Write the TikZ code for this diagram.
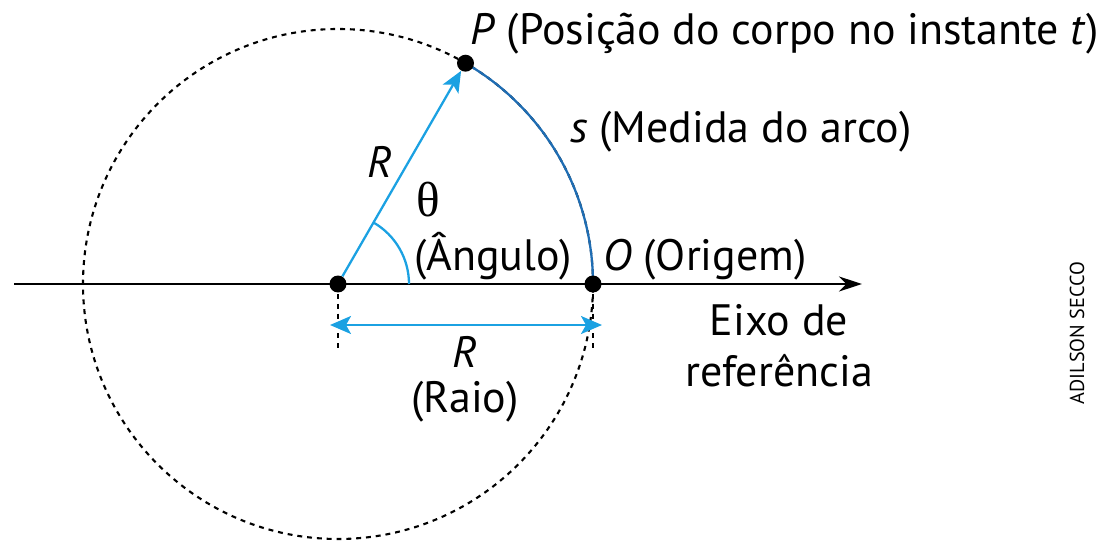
\documentclass[tikz,border=0pt]{standalone}
\usepackage{fontspec}
\setmainfont{PT Sans}
\newfontfamily\thetafont{Liberation Serif}
\usetikzlibrary{arrows.meta}
\definecolor{radblue}{HTML}{1BA1E2}
\definecolor{arcblue}{HTML}{1F6DB3}
\tikzset{
  axisarrow/.style={-{Stealth[length=4.6mm, width=3mm]}, line width=1.3pt, black},
  radarrow/.style={-{Stealth[length=4.2mm, width=3.6mm, inset=1mm]}, line width=1.3pt, radblue},
  dblarrow/.style={{Stealth[length=4.2mm, width=3.6mm, inset=1mm]}-{Stealth[length=4.2mm, width=3.6mm, inset=1mm]}, line width=1.3pt, radblue},
  arcline/.style={line width=1.3pt, arcblue},
  angline/.style={line width=1.3pt, radblue},
  dotline/.style={line width=1.2pt, dash pattern=on 2.8pt off 2.8pt},
  ptdot/.style={circle, fill=black, inner sep=0pt, minimum size=3.4mm},
  lbl/.style={font=\fontsize{25}{29}\selectfont, inner sep=0pt}
}
\begin{document}
\begin{tikzpicture}[x=0.02cm, y=0.02cm]
  \useasboundingbox (0,0) rectangle (1110,542);
  % pontos principais
  \coordinate (C) at (338,258);
  \coordinate (O) at (593,258);
  \coordinate (P) at (465.5,478.8);
  \coordinate (axL) at (14,258);
  \coordinate (axR) at (862,258);
  % circunferencia pontilhada
  \draw[dotline] (C) circle[radius=255];
  % eixo de referencia
  \draw[axisarrow] (axL) -- (axR);
  % arco s e angulo
  \draw[arcline] (O) arc[start angle=0, end angle=60, radius=255];
  \draw[angline] (409,258) arc[start angle=0, end angle=60, radius=71];
  % linhas tracejadas
  \coordinate (cT) at (338,248);
  \coordinate (cB) at (338,190);
  \coordinate (oT) at (593,248);
  \coordinate (oB) at (593,190);
  \draw[dotline] (cT) -- (cB);
  \draw[dotline] (oT) -- (oB);
  % pontos
  \node[ptdot] (c) at (C) {};
  \node[ptdot] (o) at (O) {};
  \node[ptdot] (p) at (P) {};
  \draw[radarrow] (c) -- (p);
  % raio
  \coordinate (rL) at (330,217);
  \coordinate (rR) at (602,217);
  \draw[dblarrow] (rL) -- (rR);
  % textos
  \node[lbl, anchor=base west] (plbl) at (470,497) {\textit{P} (Posição do corpo no instante \textit{t})};
  \node[lbl, anchor=base west] (slbl) at (570,399) {\textit{s} (Medida do arco)};
  \node[lbl] (r1) at (380,380) {\textit{R}};
  \node[lbl, font=\fontsize{28}{30}\selectfont] (th) at (428,342) {\thetafont θ};
  \node[lbl, anchor=base west] (ang) at (414,272) {(Ângulo)};
  \node[lbl, anchor=base west] (olbl) at (603,272) {\textit{O} (Origem)};
  \node[lbl, align=center, anchor=north] (eixo) at (779,238) {Eixo de\\referência};
  \node[lbl] (r2) at (465,190) {\textit{R}};
  \node[lbl] (raio) at (465,140) {(Raio)};
  \node[font=\fontsize{11.5}{13}\selectfont, rotate=90, inner sep=0pt] (cred) at (1077,209) {ADILSON SECCO};
\end{tikzpicture}
\end{document}
